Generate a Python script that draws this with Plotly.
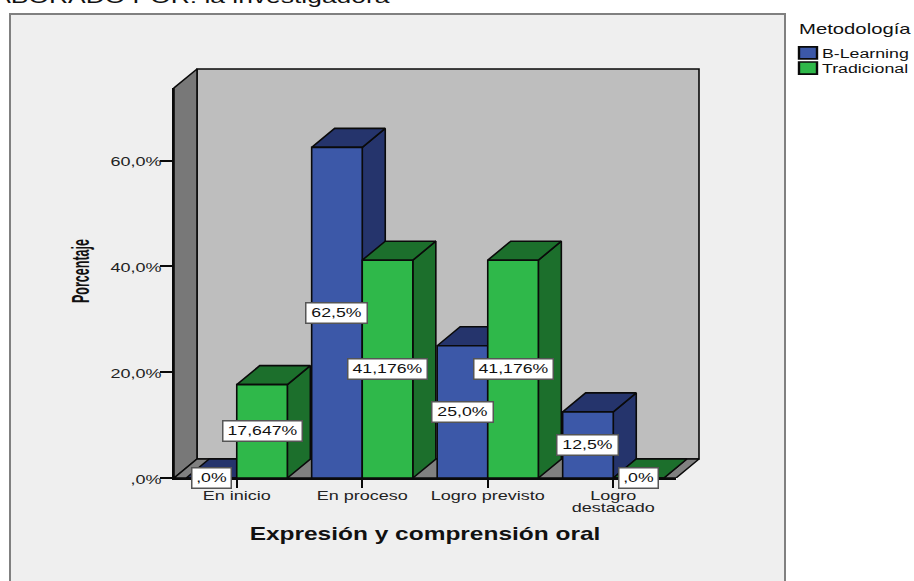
import plotly.graph_objects as go

categories = ["En inicio", "En proceso", "Logro previsto", "Logro<br>destacado"]
blearning = [0, 62.5, 25.0, 12.5]
tradicional = [17.647, 41.176, 41.176, 0]
blearning_labels = [",0%", "62,5%", "25,0%", "12,5%"]
tradicional_labels = ["17,647%", "41,176%", "41,176%", ",0%"]
y_ticks = [0, 20, 40, 60]
y_tick_labels = [",0%", "20,0%", "40,0%", "60,0%"]

W, H = 914, 581
X0, CAT_W = 174.0, 125.5
Y0, PCT_H = 478.0, 5.29
DX, DY = 23 / CAT_W, 19 / PCT_H
Y_MAX = (Y0 - 88) / PCT_H
BAR_W = 0.403
SANS = "Liberation Sans"
C = dict(blue="#3C58A8", blue_d="#25346C", green="#2FB84A", green_d="#1C6F2C",
         wall="#BEBEBE", side="#787878", floor="#808080", bg="#EFEFEF")


def fx(px):
    return px / W


def fy(py):
    return 1 - py / H


def poly(fig, pts, color):
    xs, ys = [], []
    for p in pts:
        xs += [q[0] for q in p] + [p[0][0], None]
        ys += [q[1] for q in p] + [p[0][1], None]
    fig.add_trace(go.Scatter(x=xs, y=ys, mode="lines", fill="toself", fillcolor=color,
                             line=dict(color="#0a0a0a", width=1.6), hoverinfo="skip",
                             showlegend=False, xaxis="x", yaxis="y"))


fig = go.Figure()
L, R = -0.5, 3.5
poly(fig, [[(L + DX, DY), (R + DX, DY), (R + DX, Y_MAX + DY), (L + DX, Y_MAX + DY)]], C["wall"])
poly(fig, [[(L, 0), (L + DX, DY), (L + DX, Y_MAX + DY), (L, Y_MAX)]], C["side"])
poly(fig, [[(L, 0), (R, 0), (R + DX, DY), (L + DX, DY)]], C["floor"])

for vals, off, c_side in ((blearning, -BAR_W / 2, C["blue_d"]), (tradicional, BAR_W / 2, C["green_d"])):
    sides, tops = [], []
    for i, v in enumerate(vals):
        xl, xr = i + off - BAR_W / 2, i + off + BAR_W / 2
        sides.append([(xr, 0), (xr + DX, DY), (xr + DX, v + DY), (xr, v)])
        tops.append([(xl, v), (xr, v), (xr + DX, v + DY), (xl + DX, v + DY)])
    poly(fig, sides, c_side)
    poly(fig, tops, c_side)

xs = list(range(len(categories)))
for name, vals, col in (("B-Learning", blearning, C["blue"]), ("Tradicional", tradicional, C["green"])):
    fig.add_trace(go.Bar(x=xs, y=vals, name=name,
                         marker=dict(color=col, line=dict(color="#0a0a0a", width=1.6)),
                         xaxis="x2", yaxis="y2", hoverinfo="skip"))

annotations = []
for vals, labels, off in ((blearning, blearning_labels, -BAR_W / 2), (tradicional, tradicional_labels, BAR_W / 2)):
    for i, (v, t) in enumerate(zip(vals, labels)):
        annotations.append(dict(x=i + off, y=v / 2, xref="x2", yref="y2", text=t, showarrow=False,
                                font=dict(family=SANS, size=13.3, color="#111"), bgcolor="white",
                                bordercolor="#555", borderwidth=1.5, borderpad=1,
                                width=11 * len(t) - 1 if len(t) > 5 else 11 * len(t) + 3, height=17))
annotations.append(dict(x=fx(175), y=fy(-16), xref="paper", yref="paper", xanchor="center", yanchor="top",
                        text="ELABORADO POR: la investigadora", showarrow=False,
                        font=dict(family=SANS, size=19, color="#111")))

P_L, P_R, P_T = 168, 705, 64
item_font = dict(family=SANS, size=12.5, color="#111")
fig.update_layout(
    width=W, height=H, margin=dict(l=0, r=0, t=0, b=0), paper_bgcolor="white", plot_bgcolor="rgba(0,0,0,0)",
    barmode="group", bargap=1 - 2 * BAR_W, bargroupgap=0,
    annotations=annotations,
    shapes=[dict(type="rect", xref="paper", yref="paper", x0=fx(10), x1=fx(785), y0=-0.1, y1=fy(14),
                 fillcolor=C["bg"], line=dict(color="#808080", width=2), layer="below")],
    legend=dict(x=fx(788), y=fy(20), xanchor="left", yanchor="top", bgcolor="rgba(0,0,0,0)",
                font=item_font, tracegroupgap=0,
                title=dict(text="Metodología", font=dict(family=SANS, size=14, color="#111"))),
    xaxis=dict(domain=[fx(P_L), fx(P_R)], range=[L + (P_L - X0) / CAT_W, L + (P_R - X0) / CAT_W],
               showgrid=False, zeroline=False, showline=False, showticklabels=False, ticks="", automargin=False),
    yaxis=dict(domain=[fy(Y0), fy(P_T)], range=[0, (Y0 - P_T) / PCT_H], showgrid=False, zeroline=False,
               showline=False, showticklabels=False, ticks="", anchor="x", automargin=False,
               title=dict(text="<b>Porcentaje</b>", standoff=70,
                          font=dict(family=SANS, size=23, color="#111"))),
    xaxis2=dict(domain=[fx(X0), fx(X0 + 4 * CAT_W)], range=[L, R], anchor="y2", tickvals=xs, ticktext=categories,
                showgrid=False, zeroline=False, showline=True, linecolor="#0a0a0a", linewidth=1.6,
                ticks="outside", ticklen=8, tickcolor="#0a0a0a", tickwidth=1.5, automargin=False,
                ticklabelstandoff=-3,
                tickfont=dict(family=SANS, size=13, color="#222"),
                title=dict(text="<b>Expresión y comprensión oral</b>", standoff=8,
                           font=dict(family=SANS, size=18, color="#111"))),
    yaxis2=dict(domain=[fy(Y0), fy(88)], range=[0, Y_MAX], anchor="x2", tickvals=y_ticks, ticktext=y_tick_labels,
                showgrid=False, zeroline=False, showline=True, linecolor="#0a0a0a", linewidth=1.6,
                ticks="outside", ticklen=12, tickcolor="#0a0a0a", tickwidth=1.5, automargin=False,
                ticklabelstandoff=-4,
                tickfont=dict(family=SANS, size=13, color="#222")),
)

STRETCH = """
document.body.style.margin='0';
function st(sel,sx,dx,dy){document.querySelectorAll(sel).forEach(function(t){
  var tr=t.getAttribute('transform')||'';
  if(tr.indexOf('scale(')>=0)return;
  var x=+t.getAttribute('x')||0,y=+t.getAttribute('y')||0;
  t.setAttribute('transform',tr+' translate('+(x+dx)+' '+(y+dy)+') scale('+sx+' 1) translate('+(-x)+' '+(-y)+')');});}
function all(){
st('.x2tick text',1.385,0,0);
st('.y2tick text',1.385,0,1);
st('.x2title',1.36,0,0);
st('.ytitle',0.545,0,0);
st('.annotation:not([data-index="8"]) .annotation-text',1.33,0,0);
st('.annotation[data-index="8"] .annotation-text',1.39,0,0);
st('.legendtext',1.42,-6,0);
st('.legendtitletext',1.45,9,-4);
document.querySelectorAll('.legendpoints path').forEach(function(p){
  var tr=p.getAttribute('transform')||'';
  if(tr.indexOf('scale(')<0)p.setAttribute('transform',tr+' scale(1.5 1)');});
document.querySelectorAll('.scrollbox').forEach(function(g){g.removeAttribute('clip-path');g.style.clipPath='none';});
document.querySelectorAll('.x2tick tspan.line').forEach(function(s){if(parseFloat(s.getAttribute('dy'))>0)s.setAttribute('dy','0.88em');});
var it=document.querySelectorAll('.legend .traces');
if(it.length>1&&!it[1].getAttribute('data-moved')){it[1].setAttribute('data-moved','1');
  it[1].setAttribute('transform',(it[1].getAttribute('transform')||'')+' translate(0 -4)');}
}
all();setTimeout(all,50);setTimeout(all,300);
"""
fig.write_html("out.html", config={"displayModeBar": False}, post_script=STRETCH)
